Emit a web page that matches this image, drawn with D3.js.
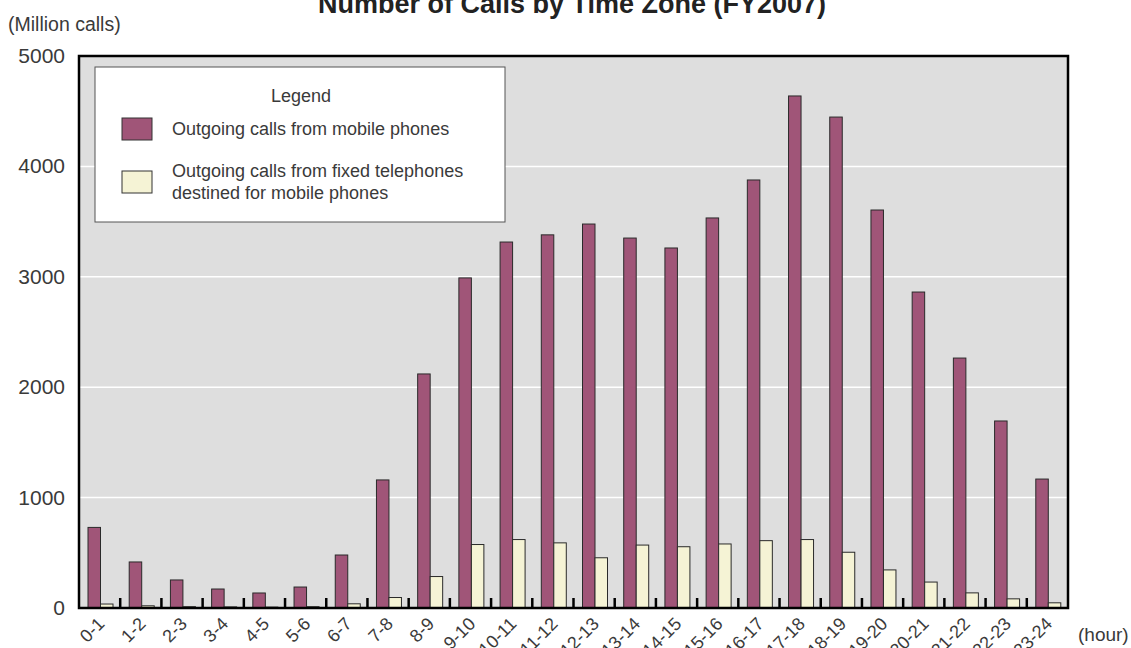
<!DOCTYPE html>
<html>
<head>
<meta charset="utf-8">
<script src="https://cdn.jsdelivr.net/npm/d3@7.9.0/dist/d3.min.js"></script>
<style>
  body { margin: 0; background: #fff; }
  svg text { font-family: "Liberation Sans", Arial, sans-serif; fill: #3a3a3a; }
</style>
</head>
<body>
<svg id="chart" width="1131" height="648"></svg>
<script>
// data (million calls)
const hours = ["0-1","1-2","2-3","3-4","4-5","5-6","6-7","7-8","8-9","9-10","10-11","11-12",
  "12-13","13-14","14-15","15-16","16-17","17-18","18-19","19-20","20-21","21-22","22-23","23-24"];
const mobile = [730, 417, 254, 172, 136, 190, 480, 1160, 2120, 2990, 3315, 3380,
  3478, 3351, 3261, 3533, 3877, 4638, 4447, 3605, 2862, 2264, 1694, 1168];
const fixedToMobile = [36, 20, 12, 10, 8, 12, 38, 95, 285, 575, 620, 590,
  455, 570, 555, 580, 610, 620, 505, 345, 235, 137, 83, 47];
const yTicks = [0, 1000, 2000, 3000, 4000, 5000];

const svg = d3.select('#chart');
const plotLeft = 79, plotRight = 1068, plotTop = 56, plotBottom = 608;

const x = d3.scaleBand().domain(hours).range([plotLeft, plotRight]);
const y = d3.scaleLinear().domain([0, 5000]).range([plotBottom, plotTop]);
const barW = 12.5;

// plot background
svg.append('rect')
  .attr('x', plotLeft).attr('y', plotTop)
  .attr('width', plotRight - plotLeft).attr('height', plotBottom - plotTop)
  .attr('fill', '#dedede');

// white grid lines
svg.selectAll('line.grid')
  .data(yTicks.slice(1, -1))
  .join('line')
  .attr('class', 'grid')
  .attr('x1', plotLeft).attr('x2', plotRight)
  .attr('y1', d => y(d)).attr('y2', d => y(d))
  .attr('stroke', '#fff').attr('stroke-width', 1.5);

// bars
svg.selectAll('rect.mobile')
  .data(mobile)
  .join('rect')
  .attr('class', 'mobile')
  .attr('x', (d, i) => x(hours[i]) + 9)
  .attr('y', d => y(d))
  .attr('width', barW)
  .attr('height', d => plotBottom - y(d))
  .attr('fill', '#a05578')
  .attr('stroke', '#2a2a2a').attr('stroke-width', 1);

svg.selectAll('rect.fixed')
  .data(fixedToMobile)
  .join('rect')
  .attr('class', 'fixed')
  .attr('x', (d, i) => x(hours[i]) + 9 + barW)
  .attr('y', d => y(d))
  .attr('width', barW)
  .attr('height', d => plotBottom - y(d))
  .attr('fill', '#f5f3d5')
  .attr('stroke', '#2a2a2a').attr('stroke-width', 1);

// small ticks between categories
svg.selectAll('line.tick')
  .data(hours.slice(1))
  .join('line')
  .attr('class', 'tick')
  .attr('x1', d => x(d)).attr('x2', d => x(d))
  .attr('y1', plotBottom - 10).attr('y2', plotBottom)
  .attr('stroke', '#000').attr('stroke-width', 2.5);

// frame
svg.append('rect')
  .attr('x', plotLeft).attr('y', plotTop)
  .attr('width', plotRight - plotLeft).attr('height', plotBottom - plotTop)
  .attr('fill', 'none').attr('stroke', '#000').attr('stroke-width', 2.5);

// y labels
svg.selectAll('text.ylab')
  .data(yTicks)
  .join('text')
  .attr('class', 'ylab')
  .attr('x', 65).attr('y', d => y(d) + 7)
  .attr('text-anchor', 'end')
  .attr('font-size', 21)
  .text(d => d);

// x labels, rotated
svg.selectAll('text.xlab')
  .data(hours)
  .join('text')
  .attr('class', 'xlab')
  .attr('text-anchor', 'end')
  .attr('font-size', 18)
  .attr('transform', d => `translate(${x(d) + x.bandwidth() / 2 + 6},${plotBottom + 17}) rotate(-45)`)
  .text(d => d);

svg.append('text').attr('x', 8).attr('y', 31).attr('font-size', 19.5).text('(Million calls)');
svg.append('text').attr('x', 1078).attr('y', 641).attr('font-size', 19).text('(hour)');

svg.append('text')
  .attr('x', 572).attr('y', 13)
  .attr('text-anchor', 'middle')
  .attr('font-size', 27).attr('font-weight', 'bold')
  .style('fill', '#222')
  .text('Number of Calls by Time Zone (FY2007)');

// legend
const lg = svg.append('g');
lg.append('rect')
  .attr('x', 95).attr('y', 67).attr('width', 410).attr('height', 155)
  .attr('fill', '#fff').attr('stroke', '#555').attr('stroke-width', 1);
lg.append('text').attr('x', 301).attr('y', 102).attr('text-anchor', 'middle')
  .attr('font-size', 18).text('Legend');

const legendItems = [
  { color: '#a05578', lines: ['Outgoing calls from mobile phones'], y: 118 },
  { color: '#f5f3d5', lines: ['Outgoing calls from fixed telephones', 'destined for mobile phones'], y: 171 }
];
legendItems.forEach(it => {
  lg.append('rect')
    .attr('x', 122).attr('y', it.y).attr('width', 30).attr('height', 22)
    .attr('fill', it.color).attr('stroke', '#333').attr('stroke-width', 1);
  const mid = it.y + 11;
  it.lines.forEach((t, k) => {
    lg.append('text')
      .attr('x', 172)
      .attr('y', mid + 6 + (k - (it.lines.length - 1) / 2) * 22)
      .attr('font-size', 18)
      .text(t);
  });
});
</script>
</body>
</html>
